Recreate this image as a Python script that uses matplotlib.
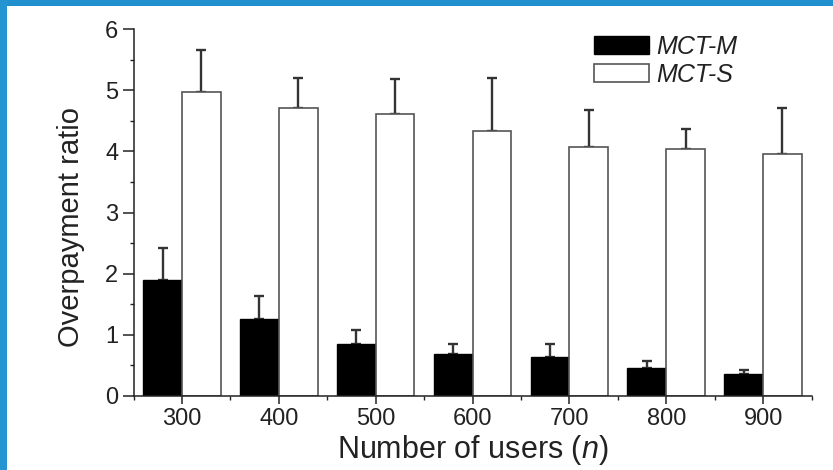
import matplotlib
matplotlib.use("Agg")
import matplotlib.pyplot as plt
from matplotlib.patches import Rectangle
from matplotlib.ticker import MultipleLocator
import numpy as np

plt.rcParams['font.family'] = ['Liberation Sans', 'DejaVu Sans']
plt.rcParams['mathtext.fontset'] = 'custom'
plt.rcParams['mathtext.it'] = 'Liberation Sans:italic'
plt.rcParams['mathtext.rm'] = 'Liberation Sans'

users = [300, 400, 500, 600, 700, 800, 900]
mct_m = [1.89, 1.26, 0.85, 0.69, 0.64, 0.46, 0.36]
mct_m_err = [0.53, 0.37, 0.22, 0.16, 0.20, 0.11, 0.06]
mct_s = [4.97, 4.71, 4.62, 4.34, 4.08, 4.04, 3.95]
mct_s_err = [0.69, 0.49, 0.56, 0.86, 0.60, 0.32, 0.76]
labels = ["MCT-M", "MCT-S"]

W, H = 833, 470
fig = plt.figure(figsize=(W / 100, H / 100), dpi=100)
fig.patch.set_facecolor('white')

# blue frame strips
fig.patches.append(Rectangle((0, 1 - 6 / H), 1, 6 / H, transform=fig.transFigure,
                             facecolor='#2190cf', edgecolor='none', zorder=0))
fig.patches.append(Rectangle((0, 0), 7 / W, 1, transform=fig.transFigure,
                             facecolor='#2494d3', edgecolor='none', zorder=0))

ax = fig.add_axes([133.6 / W, 1 - 395.7 / H, (811.5 - 133.6) / W, (395.7 - 29.3) / H])

x = np.array(users, dtype=float)
bw = 40
zeros = np.zeros(len(x))
ax.errorbar(x - bw / 2, mct_m, yerr=[zeros, mct_m_err], fmt='none', ecolor='#333333',
            elinewidth=1.7, capsize=3.5, capthick=1.7, zorder=1)
ax.errorbar(x + bw / 2, mct_s, yerr=[zeros, mct_s_err], fmt='none', ecolor='#333333',
            elinewidth=1.7, capsize=3.5, capthick=1.7, zorder=1)
ax.bar(x - bw / 2, mct_m, width=bw, color='black', edgecolor='black', linewidth=1.0,
       label=labels[0], zorder=2)
ax.bar(x + bw / 2, mct_s, width=bw, color='white', edgecolor='#555555', linewidth=1.2,
       label=labels[1], zorder=2)

ax.set_xlim(250, 950)
ax.set_ylim(0, 6)
ax.set_xticks(users)
ax.set_xticklabels([str(u) for u in users])
ax.xaxis.set_minor_locator(MultipleLocator(50))
ax.yaxis.set_major_locator(MultipleLocator(1))
ax.yaxis.set_minor_locator(MultipleLocator(0.5))
ax.tick_params(axis='both', which='major', direction='out', length=6, width=1.1,
               labelsize=17, colors='#222222', pad=3)
ax.tick_params(axis='y', which='major', length=8)
ax.tick_params(axis='both', which='minor', direction='out', length=3, width=1.0,
               colors='#222222')
for lab in ax.get_xticklabels() + ax.get_yticklabels():
    lab.set_color('#222222')

for s in ['top', 'right']:
    ax.spines[s].set_visible(False)
for s in ['left', 'bottom']:
    ax.spines[s].set_linewidth(1.1)
    ax.spines[s].set_color('#222222')

ax.set_ylabel('Overpayment ratio', fontsize=21, color='#222222')
ax.yaxis.set_label_coords(-0.071, 0.46)
ax.set_xlabel('Number of users ($n$)', fontsize=22, color='#222222', labelpad=2)

leg = ax.legend(loc='upper left', bbox_to_anchor=(594 / W, 1 - 35 / H),
                bbox_transform=fig.transFigure, frameon=False,
                prop={'family': 'Liberation Sans', 'style': 'italic', 'size': 18},
                handlelength=2.2, handleheight=0.75, handletextpad=0.3,
                labelspacing=0.15, borderpad=0, borderaxespad=0)
for t in leg.get_texts():
    t.set_color('#222222')

fig.savefig('out.png', dpi=100)
